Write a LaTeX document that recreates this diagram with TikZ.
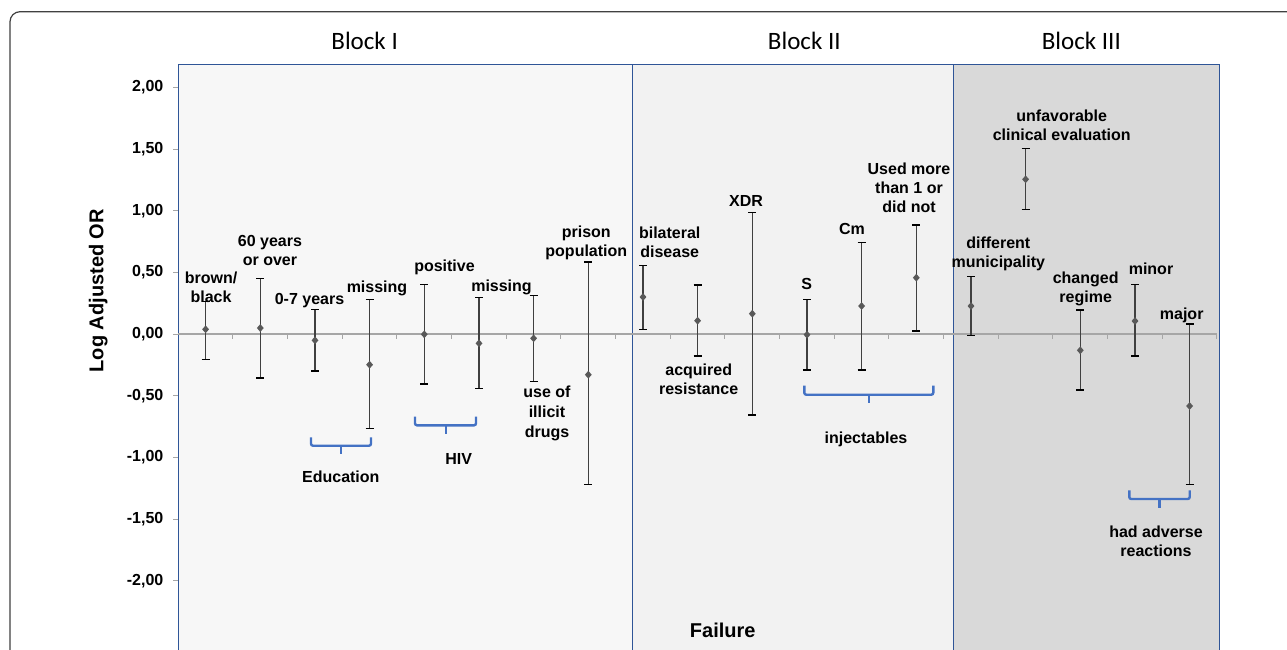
\documentclass[tikz,border=0pt]{standalone}
\usepackage{fontspec}
\setmainfont{Liberation Sans}
\newfontfamily\calib{Carlito}
\usetikzlibrary{shapes.geometric}
\definecolor{blkA}{HTML}{F7F7F7}
\definecolor{blkB}{HTML}{F2F2F2}
\definecolor{blkC}{HTML}{D9D9D9}
\definecolor{panelblue}{HTML}{2F5597}
\definecolor{bracecol}{HTML}{4472C4}
\definecolor{axisgray}{HTML}{A6A6A6}
\definecolor{barcol}{HTML}{404040}
\definecolor{markcol}{HTML}{595959}
\begin{document}
\begin{tikzpicture}[x=1pt,y=-1pt,
  lab/.style={font=\fontsize{16}{19}\selectfont\bfseries, align=center, inner sep=0pt, anchor=north},
  ticklab/.style={font=\fontsize{16}{19}\selectfont\bfseries, inner sep=0pt, anchor=east},
  blocktitle/.style={font=\fontsize{25}{30}\selectfont\calib, inner sep=0pt, anchor=base},
  panel/.style={draw=panelblue, line width=1.5pt},
  ebar/.style={draw=barcol, line width=1.4pt},
  ecap/.style={draw=black, line width=1.2pt},
  dmark/.style={diamond, fill=markcol, inner sep=0pt, minimum width=7pt, minimum height=8pt},
  bracket/.style={draw=bracecol, line width=2.4pt, rounded corners=2pt},
  axisline/.style={draw=axisgray, line width=1.4pt},
  tickline/.style={draw=axisgray, line width=1pt}
]
\useasboundingbox (0,0) rectangle (1287,649);
\clip (0,0) rectangle (1287,649);
\fill[white] (0,0) rectangle (1287,649);
% outer frame
\draw[black!75, line width=1.2pt, rounded corners=10pt] (10,700) -- (10,11.7) -- (1310,11.7);
% panels
\fill[blkA] (178.3,64.3) rectangle (632.3,700);
\fill[blkB] (632.3,64.3) rectangle (953.7,700);
\fill[blkC] (953.7,64.3) rectangle (1219.3,700);
\draw[panel] (178.3,700) -- (178.3,64.3) -- (1219.3,64.3) -- (1219.3,700);
\draw[panel] (632.3,64.3) -- (632.3,700);
\draw[panel] (953.7,64.3) -- (953.7,700);
% block titles
\node[blocktitle] (b1) at (364.6,49) {Block I};
\node[blocktitle] (b2) at (804.3,49) {Block II};
\node[blocktitle] (b3) at (1081.3,49) {Block III};
% y axis ticks and labels
\foreach \yy in {87.3,149,210.7,272.3,334,395.7,457.3,519,580.7}
  \draw[tickline] (173,\yy) -- (178.3,\yy);
\node[ticklab] (y1) at (163.5,87.3) {2,00};
\node[ticklab] (y2) at (163.5,149) {1,50};
\node[ticklab] (y3) at (163.5,210.7) {1,00};
\node[ticklab] (y4) at (163.5,272.3) {0,50};
\node[ticklab] (y5) at (163.5,334) {0,00};
\node[ticklab] (y6) at (163.5,395.7) {-0,50};
\node[ticklab] (y7) at (163.5,457.3) {-1,00};
\node[ticklab] (y8) at (163.5,519) {-1,50};
\node[ticklab] (y9) at (163.5,580.7) {-2,00};
\node[font=\fontsize{20}{24}\selectfont\bfseries, rotate=90, inner sep=0pt] (ylab) at (98.3,290.7) {Log Adjusted OR};
% x axis
\draw[axisline] (178.3,334) -- (1216.9,334);
\foreach \k in {1,...,19}
  \draw[tickline] ({178.3+54.66*\k},334) -- ({178.3+54.66*\k},339);
% error bars
\foreach \i/\x/\t/\m/\b in {
  1/205.6/301.7/329.3/359.3,
  2/260.3/278.3/328/378,
  3/315/309.3/340.3/371,
  4/369.6/299.3/364.7/428.7,
  5/424.3/284.3/334.3/384,
  6/479/297.7/343.3/388.7,
  7/533.6/295.3/338.3/381.7,
  8/588.3/262/374.7/484.3,
  9/643/265.3/297/329.3,
  10/697.6/285/320.7/356,
  11/752.3/212.3/313.7/415,
  12/807/299.3/334.7/370,
  13/861.6/242.3/306/370,
  14/916.3/225/277.7/331,
  15/971/276.7/306/335.3,
  16/1025.6/148.7/179.3/209.7,
  17/1080.3/310/350.3/390,
  18/1135/284.3/321/356,
  19/1189.6/324/406/484.3}{
  \coordinate (t\i) at (\x,\t);
  \coordinate (b\i) at (\x,\b);
  \draw[ebar] (t\i) -- (b\i);
  \draw[ecap] ([xshift=-4pt]t\i) -- ([xshift=4pt]t\i);
  \draw[ecap] ([xshift=-4pt]b\i) -- ([xshift=4pt]b\i);
  \node[dmark] (m\i) at (\x,\m) {};
}
% category labels
\node[lab] (l1) at (211,271.5) {brown/\\black};
\node[lab] (l2) at (270,235.5) {60 years\\or over};
\node[lab] (l3) at (309.5,292.8) {0-7 years};
\node[lab] (l4) at (377,280.2) {missing};
\node[lab] (l5) at (444.5,259.2) {positive};
\node[lab] (l6) at (501.5,279.5) {missing};
\node[lab, font=\fontsize{16}{20}\selectfont\bfseries] (l7) at (547,385.8) {use of\\illicit\\drugs};
\node[lab] (l8) at (586.3,225.2) {prison\\population};
\node[lab] (l9) at (669.7,226.8) {bilateral\\disease};
\node[lab] (l10) at (698.7,363.5) {acquired\\resistance};
\node[lab] (l11) at (746,195.5) {XDR};
\node[lab] (l12) at (806.7,277.8) {S};
\node[lab] (l13) at (852,223.5) {Cm};
\node[lab] (l14) at (909,162.2) {Used more\\than 1 or\\did not};
\node[lab] (l15) at (998.3,236.2) {different\\municipality};
\node[lab] (l16) at (1061.7,109.2) {unfavorable\\clinical evaluation};
\node[lab] (l17) at (1085.7,271.2) {changed\\regime};
\node[lab] (l18) at (1151,262.2) {minor};
\node[lab] (l19) at (1181.7,307.2) {major};
% group braces and labels
\draw[bracket] (311,437.3) -- (311,445.7) -- (371,445.7) -- (371,437.3);
\draw[bracket] (341,445.7) -- (341,454.3);
\node[lab] (gEdu) at (340.8,470.2) {Education};
\draw[bracket] (415,416.7) -- (415,425.3) -- (476,425.3) -- (476,416.7);
\draw[bracket] (445.7,425.3) -- (445.7,434);
\node[lab] (gHIV) at (458.7,453.5) {HIV};
\draw[bracket] (804.3,385.7) -- (804.3,394.7) -- (933.3,394.7) -- (933.3,385.7);
\draw[bracket] (869,394.7) -- (869,403.3);
\node[lab] (gInj) at (866,431.8) {injectables};
\draw[bracket] (1129.3,490.3) -- (1129.3,499) -- (1189.7,499) -- (1189.7,490.3);
\draw[bracket] (1159.3,499) -- (1159.3,507.7);
\node[lab] (gAdv) at (1156,525.2) {had adverse\\reactions};
% x axis title
\node[lab, font=\fontsize{20}{24}\selectfont\bfseries] (xlab) at (722.7,622.5) {Failure};
\end{tikzpicture}
\end{document}
